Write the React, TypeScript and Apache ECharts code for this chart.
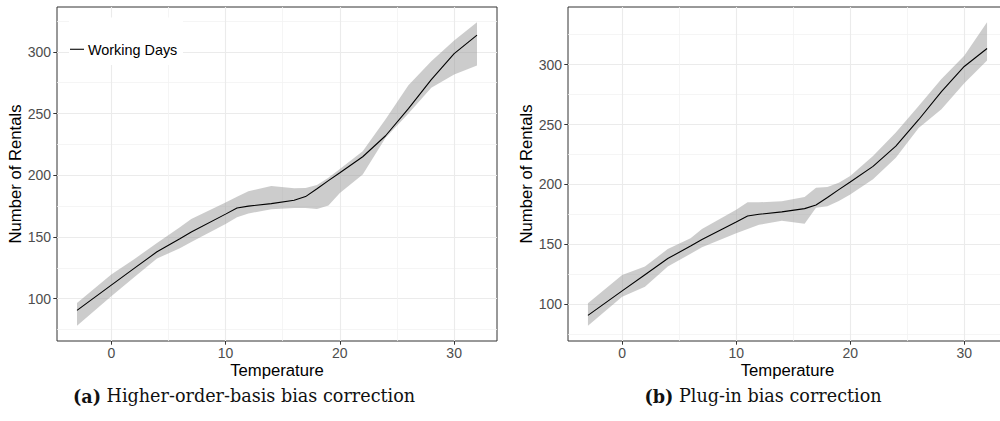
import React, { useEffect, useRef } from "react";
import * as echarts from "echarts";

// Temperatures at which the estimates are evaluated
const temperatures = [-3, 0, 2, 4, 6, 7, 10, 11, 12, 14, 16, 17, 18, 19, 20, 22, 24, 26, 28, 30, 32];
// Estimated number of rentals (working days) – same curve in both panels
const meanRentals = [90.5, 111, 124.5, 138, 148.5, 154, 168.5, 173.5, 175, 177, 179.7, 182.7, 189, 195.6, 202, 215, 232, 254, 277.5, 298.5, 313.5];
// (a) Higher-order-basis bias correction – confidence band
const upperA = [96.5, 119.5, 132, 145, 157.8, 164.6, 178, 182.6, 187, 191.3, 189.5, 189.7, 192, 198, 205, 219.5, 245.4, 273, 292.4, 309.2, 324];
const lowerA = [78, 102, 117.4, 132.5, 140.9, 146, 160.5, 166, 169, 172.4, 173.5, 173.5, 172.7, 175.4, 185.7, 200.5, 230.3, 250, 270.8, 281.6, 288.9];
// (b) Plug-in bias correction – confidence band
const upperB = [100.6, 124.3, 131.3, 146, 155, 162.6, 178.8, 185, 185, 185.8, 189.4, 197.2, 197.8, 201.4, 207, 223.7, 243.3, 265.5, 288, 307.5, 335.5];
const lowerB = [81.8, 106.1, 114.5, 131.3, 142, 147.5, 159.2, 162.6, 166.2, 169.6, 167, 180.4, 181.8, 186, 191.6, 204.2, 222.3, 247, 262.8, 284.4, 303.4];

const xTicks = [0, 10, 20, 30];
const yTicks = [100, 150, 200, 250, 300];
const legendLabel = "Working Days";
const xTitle = "Temperature";
const yTitle = "Number of Rentals";
const captionA = ["(a)", "Higher-order-basis bias correction"];
const captionB = ["(b)", "Plug-in bias correction"];

const SANS = "Liberation Sans, Arial, Helvetica, sans-serif";
const SERIF = "DejaVu Serif, serif";

function expand(lo: number, hi: number) {
  const d = (hi - lo) * 0.05;
  return [lo - d, hi + d];
}

export default function App() {
  const ref = useRef<HTMLDivElement>(null);

  useEffect(() => {
    if (!ref.current) return;
    const chart = echarts.init(ref.current, undefined, { renderer: "svg" });

    const [xMin, xMax] = expand(Math.min(...temperatures), Math.max(...temperatures));
    const [yMinA, yMaxA] = expand(Math.min(...lowerA), Math.max(...upperA));
    const [yMinB, yMaxB] = expand(Math.min(...lowerB), Math.max(...upperB));

    const grids = [
      { left: 57, top: 7, width: 440, height: 334 },
      { left: 568, top: 7, width: 439, height: 334 },
    ].map((g) => ({
      ...g,
      show: true,
      backgroundColor: "#ffffff",
      borderColor: "#333333",
      borderWidth: 1,
      containLabel: false,
      outerBoundsMode: "none",
    }));

    const makeX = (gridIndex: number) => ({
      type: "value",
      gridIndex,
      min: xMin,
      max: xMax,
      axisLine: { show: false, onZero: false },
      axisTick: { show: true, length: 3.7, lineStyle: { color: "#333333", width: 1 }, customValues: xTicks },
      axisLabel: {
        showMinLabel: false,
        showMaxLabel: false,
        color: "#4d4d4d",
        fontSize: 14,
        fontFamily: SANS,
        margin: 5,
      },
      splitLine: { show: true, lineStyle: { color: "#ebebeb", width: 1.1 } },
      minorTick: { show: false, splitNumber: 2 },
      minorSplitLine: { show: true, lineStyle: { color: "#f2f2f2", width: 0.8 } },
      name: xTitle,
      nameLocation: "middle",
      nameGap: 21,
      nameMoveOverlap: false,
      nameTextStyle: { color: "#000000", fontSize: 16.7, fontFamily: SANS },
    });

    const makeY = (gridIndex: number, min: number, max: number) => ({
      type: "value",
      gridIndex,
      min,
      max,
      axisLine: { show: false, onZero: false },
      axisTick: { show: true, length: 3.7, lineStyle: { color: "#333333", width: 1 }, customValues: yTicks },
      axisLabel: {
        showMinLabel: false,
        showMaxLabel: false,
        color: "#4d4d4d",
        fontSize: 14,
        fontFamily: SANS,
        margin: 6,
      },
      splitLine: { show: true, lineStyle: { color: "#ebebeb", width: 1.1 } },
      minorTick: { show: false, splitNumber: 2 },
      minorSplitLine: { show: true, lineStyle: { color: "#f2f2f2", width: 0.8 } },
      name: yTitle,
      nameLocation: "middle",
      nameGap: 30,
      nameTextStyle: { color: "#000000", fontSize: 16.7, fontFamily: SANS },
    });

    const panelSeries = (idx: number, lower: number[], upper: number[]) => [
      {
        type: "custom",
        xAxisIndex: idx,
        yAxisIndex: idx,
        data: temperatures.map((t, i) => [t, lower[i], upper[i]]),
        encode: { x: 0, y: [1, 2] },
        renderItem: (params: any, api: any) => {
          if (params.dataIndex !== 0) return null;
          const top = temperatures.map((t, i) => api.coord([t, upper[i]]));
          const bot = temperatures.map((t, i) => api.coord([t, lower[i]])).reverse();
          return {
            type: "polygon",
            shape: { points: top.concat(bot) },
            style: { fill: "rgba(153,153,153,0.5)", stroke: "none" },
          };
        },
        silent: true,
        z: 2,
      },
      {
        type: "line",
        xAxisIndex: idx,
        yAxisIndex: idx,
        data: temperatures.map((t, i) => [t, meanRentals[i]]),
        symbol: "none",
        lineStyle: { color: "#000000", width: 1.1 },
        silent: true,
        z: 3,
      },
    ];

    const caption = (cx: number, parts: string[]) => ({
      type: "text",
      x: cx,
      y: 396,
      z: 20,
      style: {
        text: `{b|${parts[0]}} ${parts[1]}`,
        align: "center",
        verticalAlign: "middle",
        fontFamily: SERIF,
        fontSize: 17.6,
        fill: "#111111",
        rich: {
          b: { fontWeight: "bold", fontFamily: SERIF, fontSize: 17.6, fill: "#111111" },
        },
      },
    });

    chart.setOption({
      animation: false,
      backgroundColor: "#ffffff",
      grid: grids,
      xAxis: [makeX(0), makeX(1)],
      yAxis: [makeY(0, yMinA, yMaxA), makeY(1, yMinB, yMaxB)],
      series: [...panelSeries(0, lowerA, upperA), ...panelSeries(1, lowerB, upperB)],
      graphic: [
        { type: "rect", shape: { x: 69, y: 17.5, width: 114, height: 47.5 }, style: { fill: "#ffffff" }, z: 10 },
        { type: "line", shape: { x1: 70, y1: 49.3, x2: 84, y2: 49.3 }, style: { stroke: "#1a1a1a", lineWidth: 1.2 }, z: 11 },
        {
          type: "text",
          x: 88,
          y: 49.5,
          z: 11,
          style: { text: legendLabel, fontFamily: SANS, fontSize: 14.4, fill: "#000000", verticalAlign: "middle" },
        },
        caption(244, captionA),
        caption(763, captionB),
      ],
    });

    return () => chart.dispose();
  }, []);

  return (
    <div
      ref={ref}
      style={{ position: "fixed", left: 0, top: 0, width: 1000, height: 421, background: "#ffffff" }}
    />
  );
}
